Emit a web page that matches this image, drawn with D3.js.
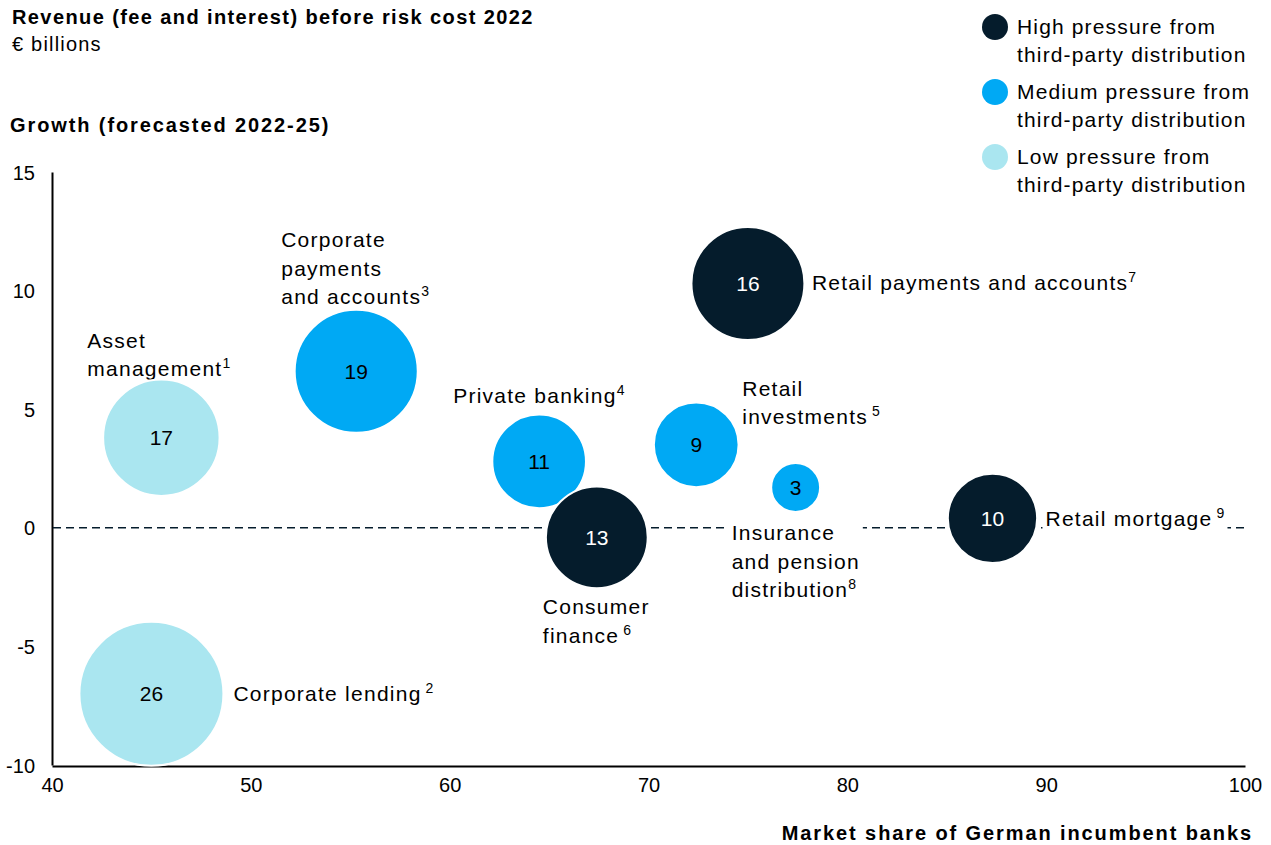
<!DOCTYPE html>
<html>
<head>
<meta charset="utf-8">
<script src="https://cdn.jsdelivr.net/npm/d3@7"></script>
<style>
  html, body { margin: 0; padding: 0; background: #fff; }
  svg { display: block; font-family: "Liberation Sans", Arial, sans-serif; }
</style>
</head>
<body>
<svg id="chart" width="1271" height="845"></svg>
<script>
// Segments of German banking revenue pools
const segments = [
  "Asset management", "Corporate lending", "Corporate payments and accounts",
  "Private banking", "Consumer finance", "Retail investments",
  "Insurance and pension distribution", "Retail payments and accounts", "Retail mortgage"
];
// Footnote numbers as they sit in the segment labels
const footnotes = [1, 2, 3, 4, 6, 5, 8, 7, 9];
// Market share of German incumbent banks, %
const marketShare = [45.5, 45.0, 55.3, 64.5, 67.4, 72.4, 77.4, 75.0, 87.3];
// Forecasted growth 2022-25, %
const growth = [3.8, -7.0, 6.6, 2.8, -0.4, 3.5, 1.7, 10.3, 0.4];
// Revenue before risk cost 2022, € billions
const revenue = [17, 26, 19, 11, 13, 9, 3, 16, 10];
// Pressure from third-party distribution
const pressure = ["low", "low", "medium", "medium", "high", "medium", "medium", "high", "high"];

const xTicks = [40, 50, 60, 70, 80, 90, 100];
const yTicks = [-10, -5, 0, 5, 10, 15];

const pressureLevels = ["high", "medium", "low"];
const legendLabels = [
  ["High pressure from", "third-party distribution"],
  ["Medium pressure from", "third-party distribution"],
  ["Low pressure from", "third-party distribution"]
];

// Line breaks of the segment labels
const labelLines = [
  ["Asset", "management"],
  ["Corporate lending"],
  ["Corporate", "payments", "and accounts"],
  ["Private banking"],
  ["Consumer", "finance"],
  ["Retail", "investments"],
  ["Insurance", "and pension", "distribution"],
  ["Retail payments and accounts"],
  ["Retail mortgage"]
];

// Label placement relative to the bubble centre (layout only)
const labelLayout = [
  { dx: -74, dy: -97, gap: false },
  { dx: 82, dy: 0, gap: true },
  { dx: -75, dy: -131, gap: false },
  { dx: -86, dy: -65, gap: false },
  { dx: -54, dy: 70, gap: true },
  { dx: 46, dy: -56, gap: true },
  { dx: -64, dy: 46, gap: false },
  { dx: 64, dy: 0, gap: false },
  { dx: 53, dy: 1, gap: true }
];

const colors = { high: "#051c2c", medium: "#00a9f4", low: "#aae6f0" };
const ink = "#000000";
const labelSpacing = 1.25;

const svg = d3.select("#chart");

const x = d3.scaleLinear().domain([40, 100]).range([52, 1245]);
const y = d3.scaleLinear().domain([-10, 15]).range([765, 172]);
const r = d3.scaleSqrt().domain([0, 26]).range([0, 72]);

// Header texts
svg.append("text").attr("x", 12).attr("y", 24)
  .attr("font-size", 20).attr("font-weight", "bold").attr("fill", ink)
  .attr("letter-spacing", 1.4)
  .text("Revenue (fee and interest) before risk cost 2022");
svg.append("text").attr("x", 12).attr("y", 51)
  .attr("font-size", 20).attr("fill", ink)
  .attr("letter-spacing", 1.2)
  .text("€ billions");
svg.append("text").attr("x", 10).attr("y", 132)
  .attr("font-size", 20).attr("font-weight", "bold").attr("fill", ink)
  .attr("letter-spacing", 1.9)
  .text("Growth (forecasted 2022-25)");
svg.append("text").attr("x", 1253).attr("y", 840)
  .attr("font-size", 20).attr("font-weight", "bold").attr("fill", ink)
  .attr("letter-spacing", 1.9)
  .attr("text-anchor", "end")
  .text("Market share of German incumbent banks");

// Legend
const legend = svg.append("g");
pressureLevels.forEach((lvl, i) => {
  const gy = 27 + i * 65;
  legend.append("circle").attr("cx", 995).attr("cy", gy).attr("r", 13)
    .attr("fill", colors[lvl]);
  legendLabels[i].forEach((line, j) => {
    legend.append("text").attr("x", 1017).attr("y", gy + 7 + j * 28)
      .attr("font-size", 21).attr("letter-spacing", 1.15)
      .attr("fill", ink).text(line);
  });
});

// Axes
const fmt = d => String(d);
const xAxis = svg.append("g").attr("transform", "translate(0,766)")
  .call(d3.axisBottom(x).tickValues(xTicks).tickSize(0).tickPadding(12).tickFormat(fmt));
const yAxis = svg.append("g").attr("transform", "translate(52,0)")
  .call(d3.axisLeft(y).tickValues(yTicks).tickSize(0).tickPadding(17).tickFormat(fmt));
[xAxis, yAxis].forEach(g => {
  g.select(".domain").attr("stroke", ink).attr("stroke-width", 2);
  g.selectAll("text").attr("font-size", 20).attr("fill", ink)
    .attr("font-family", "'Liberation Sans', Arial, sans-serif");
});
yAxis.selectAll(".tick text").attr("dy", "0.35em");

// Zero-growth reference line
svg.append("line")
  .attr("x1", x(40) + 1).attr("x2", x(100))
  .attr("y1", y(0)).attr("y2", y(0))
  .attr("stroke", "#051c2c").attr("stroke-width", 1.5)
  .attr("stroke-dasharray", "8,5");

// Segment labels on white boxes
const labels = svg.append("g");
segments.forEach((name, i) => {
  const cx = x(marketShare[i]), cy = y(growth[i]);
  const lay = labelLayout[i];
  const g = labels.append("g");
  const box = g.append("rect").attr("fill", "#fff");
  const lines = labelLines[i];
  lines.forEach((line, j) => {
    const t = g.append("text")
      .attr("x", cx + lay.dx).attr("y", cy + lay.dy + 7 + j * 28.5)
      .attr("font-size", 21).attr("letter-spacing", labelSpacing)
      .attr("fill", ink).text(line);
    if (j === lines.length - 1) {
      t.append("tspan").attr("font-size", 14).attr("dy", -8)
        .attr("letter-spacing", 0)
        .attr("dx", lay.gap ? 4 : 0)
        .text(footnotes[i]);
    }
  });
  const bb = g.node().getBBox();
  box.attr("x", bb.x - 3).attr("y", bb.y).attr("width", bb.width + 6).attr("height", bb.height);
});

// Bubbles
const order = d3.range(segments.length);
const bubbles = svg.append("g").selectAll("g").data(order).join("g")
  .attr("transform", i => `translate(${x(marketShare[i])},${y(growth[i])})`);
bubbles.append("circle")
  .attr("r", i => r(revenue[i]))
  .attr("fill", i => colors[pressure[i]])
  .attr("stroke", "#fff").attr("stroke-width", 2);
bubbles.append("text")
  .attr("text-anchor", "middle").attr("dy", "0.35em")
  .attr("font-size", 21)
  .attr("fill", i => pressure[i] === "high" ? "#fff" : ink)
  .text(i => revenue[i]);
</script>
</body>
</html>
